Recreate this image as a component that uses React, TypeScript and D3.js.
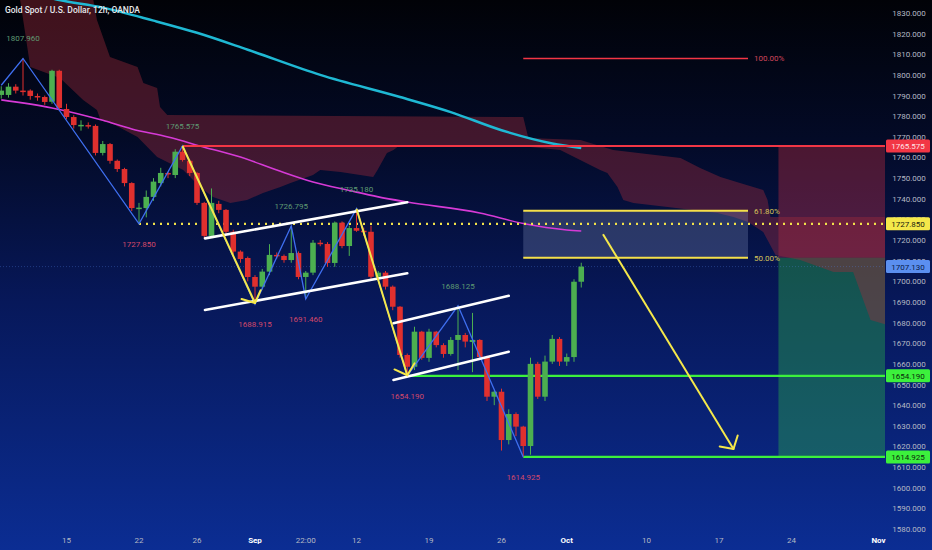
import React, { useRef, useEffect } from 'react';
import * as d3 from 'd3';

const WIDTH = 932;
const HEIGHT = 550;
const PLOT_RIGHT = 885;

// 12h candles, bar 0 .. 80
const OPEN = [
  1790.3, 1790.3, 1794.3, 1792.4, 1792.4, 1789.8, 1789.3, 1787.0, 1802.0, 1783.5,
  1779.6, 1775.5, 1775.7, 1775.3, 1762.2, 1766.5, 1758.4, 1754.4, 1747.6, 1735.3,
  1735.5, 1740.9, 1747.6, 1752.5, 1751.5, 1762.8, 1758.4, 1752.5, 1738.0, 1722.0,
  1737.5, 1734.6, 1724.0, 1714.4, 1711.3, 1702.1, 1697.4, 1704.7, 1712.8, 1712.3,
  1710.3, 1713.7, 1702.1, 1704.2, 1718.7, 1718.1, 1708.9, 1728.4, 1717.1, 1725.8,
  1724.5, 1724.0, 1702.2, 1704.2, 1697.4, 1687.7, 1664.3, 1658.6, 1675.6, 1662.9,
  1675.6, 1669.1, 1664.8, 1671.6, 1674.0, 1670.6, 1671.6, 1663.3, 1644.1, 1646.5,
  1623.1, 1635.7, 1629.6, 1620.2, 1660.0, 1644.1, 1661.1, 1672.1, 1661.1, 1663.3,
  1699.8,
];
const HIGH = [
  1794.5, 1796.0, 1795.5, 1807.96, 1793.0, 1791.0, 1790.0, 1802.5, 1802.5, 1786.0,
  1780.5, 1778.0, 1777.0, 1776.0, 1768.0, 1767.0, 1759.0, 1755.0, 1748.0, 1738.0,
  1744.0, 1750.0, 1755.0, 1753.0, 1764.0, 1765.575, 1759.0, 1753.0, 1738.5, 1745.0,
  1739.0, 1735.0, 1725.0, 1715.0, 1712.0, 1703.0, 1706.0, 1718.0, 1714.0, 1713.0,
  1726.795, 1714.5, 1705.0, 1720.0, 1720.0, 1719.0, 1729.0, 1729.0, 1727.0, 1735.18,
  1726.0, 1727.0, 1705.0, 1705.0, 1698.0, 1688.0, 1665.0, 1678.0, 1676.0, 1677.0,
  1676.0, 1670.0, 1673.0, 1688.125, 1675.0, 1684.7, 1672.0, 1664.0, 1647.0, 1648.0,
  1638.0, 1636.5, 1630.0, 1663.0, 1661.0, 1664.0, 1674.0, 1673.0, 1665.0, 1701.0,
  1709.0,
];
const LOW = [
  1788.5, 1789.0, 1791.0, 1790.0, 1788.0, 1787.5, 1785.5, 1786.0, 1783.0, 1778.5,
  1774.0, 1773.0, 1774.0, 1761.0, 1761.0, 1757.0, 1753.0, 1746.0, 1734.0, 1727.85,
  1731.0, 1739.0, 1746.0, 1750.0, 1750.0, 1758.0, 1751.0, 1737.0, 1721.0, 1721.0,
  1733.0, 1723.0, 1713.0, 1709.0, 1700.0, 1688.915, 1696.0, 1703.0, 1711.0, 1709.0,
  1709.0, 1701.0, 1691.46, 1703.0, 1717.0, 1707.0, 1707.0, 1716.0, 1712.3, 1724.0,
  1722.0, 1701.0, 1700.0, 1696.0, 1686.0, 1663.0, 1654.19, 1657.0, 1662.0, 1661.0,
  1668.0, 1663.0, 1664.0, 1657.0, 1668.0, 1656.0, 1662.0, 1642.0, 1640.0, 1618.0,
  1621.0, 1625.0, 1614.925, 1616.0, 1643.0, 1642.0, 1660.0, 1659.0, 1659.0, 1661.0,
  1697.0,
];
const CLOSE = [
  1792.4, 1794.3, 1792.4, 1792.0, 1789.8, 1789.3, 1786.9, 1802.0, 1784.0, 1779.6,
  1775.7, 1775.8, 1775.3, 1762.2, 1766.5, 1758.4, 1754.4, 1747.6, 1735.5, 1735.7,
  1740.9, 1748.3, 1752.5, 1752.0, 1762.8, 1758.8, 1752.5, 1738.0, 1722.0, 1738.0,
  1734.6, 1724.0, 1714.4, 1710.8, 1702.1, 1697.4, 1704.7, 1712.8, 1712.3, 1710.3,
  1713.7, 1702.1, 1704.2, 1718.7, 1718.1, 1708.9, 1728.4, 1717.1, 1725.8, 1724.5,
  1724.0, 1702.2, 1704.2, 1697.4, 1687.7, 1664.3, 1658.6, 1675.6, 1662.9, 1675.6,
  1669.1, 1664.8, 1671.6, 1674.0, 1670.8, 1671.6, 1663.3, 1644.1, 1646.5, 1623.1,
  1635.7, 1629.6, 1620.2, 1660.0, 1644.1, 1661.1, 1672.1, 1661.1, 1663.3, 1699.8,
  1707.13,
];

const PRICE_TICKS = d3.range(1580, 1831, 10);
const TIME_TICK_BARS = [9, 19, 27, 35, 42, 49, 59, 69, 78, 89, 99, 109, 121];
const TIME_TICK_LABELS = ['15', '22', '26', 'Sep', '22:00', '12', '19', '26', 'Oct', '10', '17', '24', 'Nov'];
const TIME_TICK_BOLD = ['Sep', 'Oct', 'Nov'];

// zigzag pivots
const ZIGZAG_BARS = [0, 3, 19, 25, 35, 40, 42, 49, 56, 63, 72];
const ZIGZAG_PRICES = [1795, 1807.96, 1727.85, 1765.575, 1688.915, 1726.795, 1691.46, 1735.18, 1654.19, 1688.125, 1614.925];

// moving averages
const SLOW_MA_BARS = [0, 8, 14, 21, 27, 34, 44, 55, 62, 69, 76, 80];
const SLOW_MA = [1843.5, 1836.3, 1832.6, 1826.3, 1820.4, 1812.2, 1800.0, 1789.3, 1782.0, 1773.2, 1766.8, 1764.6];
const FAST_MA_BARS = [0, 7, 14, 18, 23, 28, 33, 38, 43, 48, 52, 56, 66, 72, 78, 80];
const FAST_MA = [1787.9, 1784.0, 1778.0, 1773.8, 1769.9, 1765.0, 1760.2, 1753.9, 1748.1, 1744.0, 1740.9, 1738.4, 1733.1, 1728.0, 1724.9, 1724.4];

// ichimoku cloud edges [bar, price]
const CLOUD_TOP: [number, number][] = [
  [-1, 1860], [11.6, 1840.2], [12.7, 1836.3], [13.2, 1826.6], [15.0, 1808.7], [18.8, 1803.8],
  [19.6, 1796.1], [21.5, 1793.7], [21.9, 1784.5], [22.9, 1780.6], [72.0, 1779.6], [72.7, 1769.4],
  [79.9, 1768.5], [84.4, 1763.6], [93.7, 1759.7], [96.4, 1754.9], [99.2, 1750.5], [101.9, 1747.6],
  [105.1, 1744.2], [105.7, 1739.4], [106.1, 1731.2], [107.2, 1731.2], [124, 1731.2],
];
const CLOUD_BOTTOM: [number, number][] = [
  [-1, 1850], [2.6, 1836.3], [3.3, 1820.3], [4.0, 1803.8], [8.1, 1798.5], [11.3, 1787.8],
  [13.2, 1783.0], [13.7, 1778.2], [15.7, 1775.7], [18.8, 1769.9], [21.5, 1760.2], [25.1, 1753.9],
  [27.4, 1745.7], [29.2, 1740.9], [31.6, 1737.9], [33.9, 1739.4], [36.1, 1742.8], [38.5, 1745.7],
  [39.9, 1747.6], [43.0, 1751.5], [44.0, 1753.9], [46.8, 1753.0], [49.5, 1751.5], [51.3, 1750.5],
  [51.9, 1753.9], [53.2, 1762.2], [54.1, 1763.6], [55.0, 1766.0], [71.6, 1765.6], [77.1, 1763.6],
  [82.6, 1753.9], [83.6, 1752.5], [85.0, 1745.7], [85.8, 1739.4], [87.2, 1737.9], [91.9, 1736.0],
  [95.4, 1734.6], [98.8, 1733.1], [101.0, 1731.2], [103.0, 1728.7], [105.1, 1723.9], [106.8, 1712.8],
  [110.2, 1710.3], [114.8, 1704.5], [117.5, 1704.5], [119.9, 1681.3], [124, 1677.0],
];

// channels [bar1, price1, bar2, price2]
const CHANNELS = [
  [28.1, 1720.8, 56.0, 1738.3],
  [28.1, 1686.1, 56.0, 1703.9],
  [54.1, 1679.7, 70.0, 1693.0],
  [54.1, 1652.2, 70.0, 1665.9],
];

// yellow arrows [bar1, price1, bar2, price2]
const ARROWS = [
  [25, 1765.575, 35, 1689.5],
  [49, 1735.18, 56, 1654.5],
  [83, 1722.8, 101, 1618.8],
];

// fibonacci retracement
const FIB_LOW = 1614.925;
const FIB_HIGH = 1807.96;
const FIB_RATIOS = [1, 0.618, 0.5];
const FIB_LABELS = ['100.00%', '61.80%', '50.00%'];
const FIB_START = 72;
const FIB_END = 103;

// horizontal levels
const RESIST_LEVEL = 1765.575;
const PIVOT_LEVEL = 1727.85;
const SUPPORT_LEVELS = [1654.19, 1614.925];
const LAST_PRICE = 1707.13;
const LEVEL_START_BARS = { resist: 25, pivot: 19, supports: [56, 72] };

// short position box
const POS_START = 107.2;
const POS_STOP = 1765.575;
const POS_ENTRY = 1711.44;
const POS_TARGET = 1614.925;

const GREEN = '#4caf50';
const RED = '#e0302e';

const GoldChart: React.FC = () => {
  const svgRef = useRef<SVGSVGElement | null>(null);

  useEffect(() => {
    document.body.style.margin = '0';
    const svg = d3.select(svgRef.current);
    svg.selectAll('*').remove();

    const x = d3.scaleLinear().domain([0, 80]).range([1.25, 581.25]);
    const y = d3.scaleLinear().domain([1580, 1830]).range([529, 13]);

    const defs = svg.append('defs');
    const grad = defs.append('linearGradient')
      .attr('id', 'bg').attr('x1', 0).attr('y1', 0).attr('x2', 0).attr('y2', 1);
    grad.append('stop').attr('offset', '0%').attr('stop-color', '#010207');
    grad.append('stop').attr('offset', '25%').attr('stop-color', '#030a26');
    grad.append('stop').attr('offset', '55%').attr('stop-color', '#07185a');
    grad.append('stop').attr('offset', '100%').attr('stop-color', '#0b2d93');
    defs.append('clipPath').attr('id', 'plot')
      .append('rect').attr('x', 0).attr('y', 0).attr('width', PLOT_RIGHT).attr('height', 535);

    svg.append('rect').attr('width', WIDTH).attr('height', HEIGHT).attr('fill', 'url(#bg)');

    const g = svg.append('g').attr('clip-path', 'url(#plot)');

    // Position box
    g.append('rect')
      .attr('x', x(POS_START)).attr('y', y(POS_STOP))
      .attr('width', PLOT_RIGHT - x(POS_START)).attr('height', y(POS_ENTRY) - y(POS_STOP))
      .attr('fill', '#f23645').attr('opacity', 0.3);
    g.append('rect')
      .attr('x', x(POS_START)).attr('y', y(POS_ENTRY))
      .attr('width', PLOT_RIGHT - x(POS_START)).attr('height', y(POS_TARGET) - y(POS_ENTRY))
      .attr('fill', '#2bb24c').attr('opacity', 0.4);

    // Cloud
    const cloudPts = [...CLOUD_TOP, ...CLOUD_BOTTOM.slice().reverse()];
    g.append('path')
      .attr('d', d3.line<[number, number]>().x(d => x(d[0])).y(d => y(d[1]))(cloudPts) + 'Z')
      .attr('fill', '#a02a3a').attr('opacity', 0.4);

    // Fib zone
    const fibPrices = FIB_RATIOS.map(r => FIB_LOW + r * (FIB_HIGH - FIB_LOW));
    g.append('rect')
      .attr('x', x(FIB_START)).attr('y', y(fibPrices[1]))
      .attr('width', x(FIB_END) - x(FIB_START)).attr('height', y(fibPrices[2]) - y(fibPrices[1]))
      .attr('fill', '#8d9cc4').attr('opacity', 0.28);
    fibPrices.forEach((p, k) => {
      g.append('line')
        .attr('x1', x(FIB_START)).attr('x2', x(FIB_END)).attr('y1', y(p)).attr('y2', y(p))
        .attr('stroke', k === 0 ? '#f23645' : '#f5e04a').attr('stroke-width', k === 0 ? 1.5 : 2);
      g.append('text')
        .attr('x', x(FIB_END) + 6).attr('y', y(p) + 3)
        .attr('fill', k === 0 ? '#d2455c' : '#d6c35a')
        .attr('font-family', 'Roboto, sans-serif').attr('font-size', 8)
        .text(FIB_LABELS[k]);
    });

    // last price faint line
    g.append('line')
      .attr('x1', 0).attr('x2', PLOT_RIGHT).attr('y1', y(LAST_PRICE)).attr('y2', y(LAST_PRICE))
      .attr('stroke', '#4f7fe0').attr('stroke-opacity', 0.35).attr('stroke-width', 1)
      .attr('stroke-dasharray', '1 2');

    // Moving averages
    g.append('path')
      .attr('d', d3.line<number>().curve(d3.curveMonotoneX).x((_, k) => x(SLOW_MA_BARS[k])).y(d => y(d))(SLOW_MA))
      .attr('fill', 'none').attr('stroke', '#1fb8d3').attr('stroke-width', 2.5);
    g.append('path')
      .attr('d', d3.line<number>().curve(d3.curveMonotoneX).x((_, k) => x(FAST_MA_BARS[k])).y(d => y(d))(FAST_MA))
      .attr('fill', 'none').attr('stroke', '#d63ad6').attr('stroke-width', 1.6);

    // Horizontal levels
    g.append('line')
      .attr('x1', x(LEVEL_START_BARS.resist)).attr('x2', PLOT_RIGHT)
      .attr('y1', y(RESIST_LEVEL)).attr('y2', y(RESIST_LEVEL))
      .attr('stroke', '#f23645').attr('stroke-width', 2);
    g.append('line')
      .attr('x1', x(LEVEL_START_BARS.pivot)).attr('x2', PLOT_RIGHT)
      .attr('y1', y(PIVOT_LEVEL)).attr('y2', y(PIVOT_LEVEL))
      .attr('stroke', '#f2e24a').attr('stroke-width', 2.2).attr('stroke-dasharray', '2 5');
    SUPPORT_LEVELS.forEach((p, k) => {
      g.append('line')
        .attr('x1', x(LEVEL_START_BARS.supports[k])).attr('x2', PLOT_RIGHT)
        .attr('y1', y(p)).attr('y2', y(p))
        .attr('stroke', '#3cf03c').attr('stroke-width', 2.2);
    });

    // Candles
    const bodyW = 5.6;
    CLOSE.forEach((c, i) => {
      const o = OPEN[i];
      const col = c >= o ? GREEN : RED;
      g.append('line')
        .attr('x1', x(i)).attr('x2', x(i)).attr('y1', y(HIGH[i])).attr('y2', y(LOW[i]))
        .attr('stroke', col).attr('stroke-width', 1);
      const top = y(Math.max(o, c));
      const h = Math.max(1.5, Math.abs(y(o) - y(c)));
      g.append('rect')
        .attr('x', x(i) - bodyW / 2).attr('y', top).attr('width', bodyW).attr('height', h)
        .attr('fill', col);
    });

    // Zigzag
    g.append('path')
      .attr('d', d3.line<number>().x((_, k) => x(ZIGZAG_BARS[k])).y(d => y(d))(ZIGZAG_PRICES))
      .attr('fill', 'none').attr('stroke', '#3f6ff0').attr('stroke-width', 1.3);

    // Pivot labels
    ZIGZAG_PRICES.forEach((p, k) => {
      if (k === 0) return;
      const prev = ZIGZAG_PRICES[k - 1];
      const isHigh = p > prev;
      g.append('text')
        .attr('x', x(ZIGZAG_BARS[k])).attr('y', y(p) + (isHigh ? -17 : 23))
        .attr('text-anchor', 'middle')
        .attr('fill', isHigh ? '#5f9a72' : '#d2486a')
        .attr('font-family', 'Roboto, sans-serif').attr('font-size', 8)
        .text(p.toFixed(3));
    });

    // Channels
    CHANNELS.forEach(([b1, p1, b2, p2]) => {
      g.append('line')
        .attr('x1', x(b1)).attr('y1', y(p1)).attr('x2', x(b2)).attr('y2', y(p2))
        .attr('stroke', '#ffffff').attr('stroke-width', 2.6).attr('stroke-linecap', 'round');
    });

    // Arrows
    ARROWS.forEach(([b1, p1, b2, p2]) => {
      const x1 = x(b1), y1 = y(p1), x2 = x(b2), y2 = y(p2);
      g.append('line')
        .attr('x1', x1).attr('y1', y1).attr('x2', x2).attr('y2', y2)
        .attr('stroke', '#f5e84a').attr('stroke-width', 2);
      const back = Math.atan2(y1 - y2, x1 - x2);
      [-0.85, 0.85].forEach(da => {
        const a = back + da;
        g.append('line')
          .attr('x1', x2).attr('y1', y2)
          .attr('x2', x2 + 14 * Math.cos(a)).attr('y2', y2 + 14 * Math.sin(a))
          .attr('stroke', '#f5e84a').attr('stroke-width', 2).attr('stroke-linecap', 'round');
      });
    });

    // Title
    svg.append('text')
      .attr('x', 5).attr('y', 13)
      .attr('fill', '#e8e8ec')
      .attr('font-family', 'Roboto, sans-serif').attr('font-size', 8.5).attr('font-weight', 500)
      .text('Gold Spot / U.S. Dollar, 12h, OANDA');

    // Price axis
    const axis = svg.append('g').attr('font-family', 'Roboto, sans-serif').attr('font-size', 8);
    PRICE_TICKS.forEach(p => {
      axis.append('text')
        .attr('x', 909).attr('y', y(p) + 3).attr('text-anchor', 'middle')
        .attr('fill', '#b4b8c4').text(p.toFixed(3));
    });

    const tags = [
      { p: RESIST_LEVEL, bg: '#f23645', fg: '#ffe4e8' },
      { p: PIVOT_LEVEL, bg: '#f5e84a', fg: '#1a1a10' },
      { p: LAST_PRICE, bg: '#5b8ff0', fg: '#0a1a48' },
      { p: SUPPORT_LEVELS[0], bg: '#3cf03c', fg: '#0b2a0b' },
      { p: SUPPORT_LEVELS[1], bg: '#3cf03c', fg: '#0b2a0b' },
    ];
    tags.forEach(t => {
      axis.append('rect')
        .attr('x', 886).attr('y', y(t.p) - 6.5).attr('width', 44).attr('height', 13)
        .attr('rx', 1.5).attr('fill', t.bg);
      axis.append('text')
        .attr('x', 908).attr('y', y(t.p) + 3).attr('text-anchor', 'middle')
        .attr('fill', t.fg).text(t.p.toFixed(3));
    });

    // Time axis
    TIME_TICK_BARS.forEach((b, k) => {
      const lbl = TIME_TICK_LABELS[k];
      const bold = TIME_TICK_BOLD.includes(lbl);
      svg.append('text')
        .attr('x', x(b)).attr('y', 543).attr('text-anchor', 'middle')
        .attr('fill', bold ? '#ffffff' : '#b4b8c4')
        .attr('font-family', 'Roboto, sans-serif').attr('font-size', 8)
        .attr('font-weight', bold ? 700 : 400)
        .text(lbl);
    });
  }, []);

  return <svg ref={svgRef} width={WIDTH} height={HEIGHT} style={{ display: 'block' }} />;
};

export default function App() {
  return <GoldChart />;
}
